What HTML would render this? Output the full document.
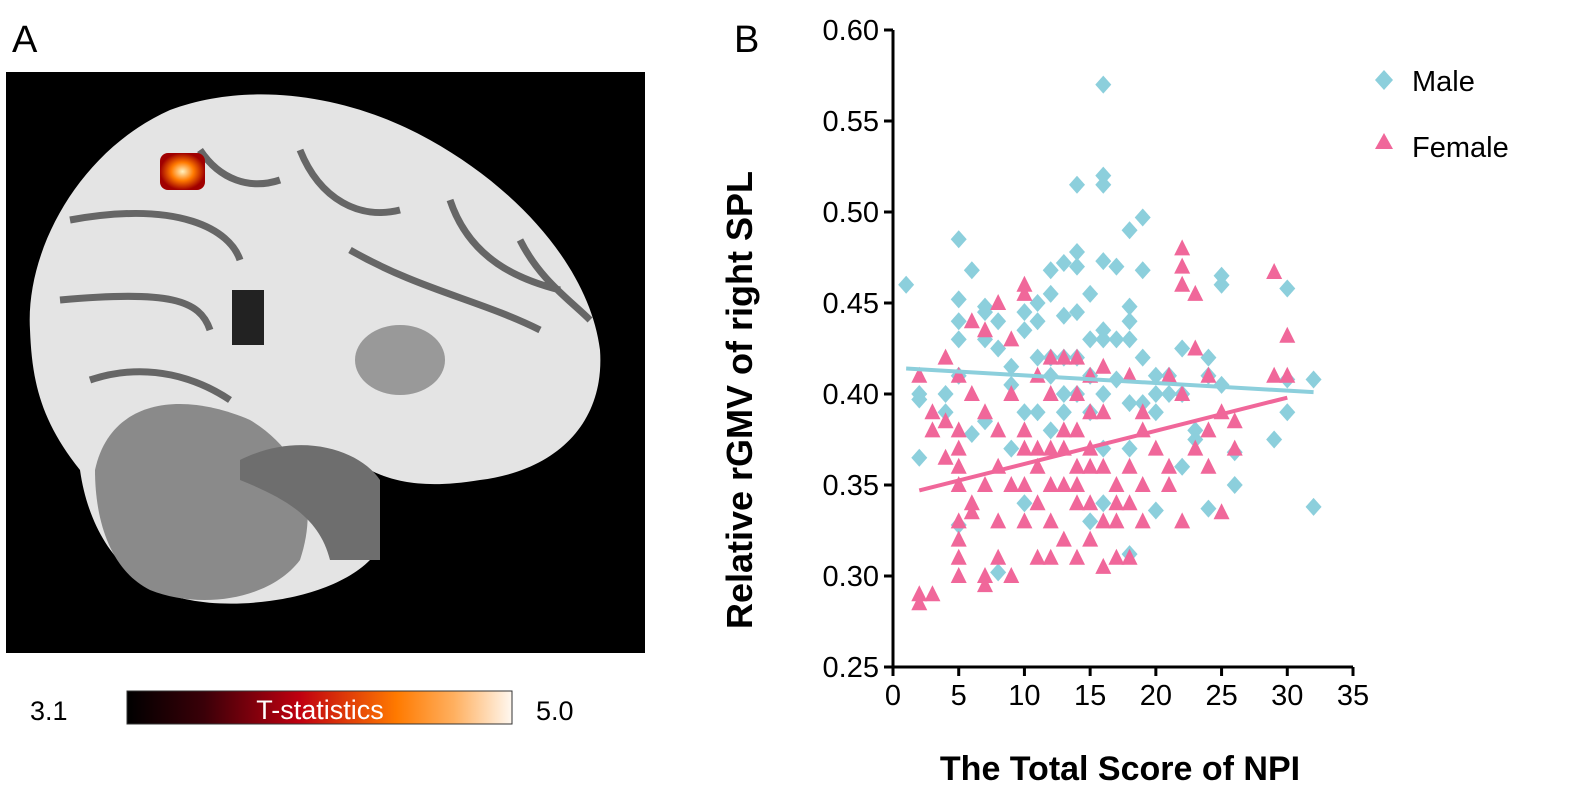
<!DOCTYPE html>
<html><head><meta charset="utf-8"><style>
body{margin:0;background:#fff;}
svg{display:block;font-family:"Liberation Sans",Arial,sans-serif;}
</style></head><body>
<svg id="fig" width="1575" height="794" viewBox="0 0 1575 794">
<defs>
<linearGradient id="cb" x1="0" x2="1" y1="0" y2="0">
<stop offset="0" stop-color="#000"/><stop offset="0.2" stop-color="#3a0008"/><stop offset="0.45" stop-color="#c00010"/><stop offset="0.7" stop-color="#ff7a00"/><stop offset="0.85" stop-color="#ffb060"/><stop offset="1" stop-color="#fff8f0"/>
</linearGradient>
<radialGradient id="hot"><stop offset="0" stop-color="#fff2c0"/><stop offset="0.5" stop-color="#ff7a00"/><stop offset="1" stop-color="#a00000"/></radialGradient>
</defs>
<text x="12" y="52" font-size="38">A</text>
<text x="734" y="52" font-size="38">B</text>
<g>
<rect x="6" y="72" width="639" height="581" fill="#000"/>
<path d="M30,330 C25,250 80,150 170,110 C250,80 350,95 430,140 C520,190 590,270 600,350 C605,420 560,470 480,480 C420,490 390,480 370,470 L370,560 C330,600 240,610 190,600 C130,590 90,540 80,470 C40,420 32,380 30,330 Z" fill="#e4e4e4"/>
<path d="M95,470 C110,400 180,390 250,420 C300,450 320,500 300,560 C270,600 200,610 150,590 C110,570 95,520 95,470 Z" fill="#8a8a8a"/>
<path d="M240,460 C300,430 360,450 380,480 L380,560 L330,560 C320,520 290,500 240,480 Z" fill="#6e6e6e"/>
<ellipse cx="400" cy="360" rx="45" ry="35" fill="#999"/>
<rect x="232" y="290" width="32" height="55" fill="#222"/>
<path d="M70,220 C180,200 230,230 240,260 M300,150 C320,200 360,220 400,210 M450,200 C470,260 520,280 560,290 M60,300 C170,290 200,300 210,330 M350,250 C420,290 480,300 540,330 M90,380 C150,360 200,380 230,400 M200,150 C220,180 250,190 280,180 M520,240 C540,280 570,300 590,320" stroke="#666" stroke-width="7" fill="none"/>
<rect x="160" y="153" width="45" height="37" rx="8" fill="url(#hot)"/>
</g>
<g>
<text x="30" y="720" font-size="27">3.1</text>
<rect x="127" y="691" width="385" height="33" fill="url(#cb)" stroke="#333" stroke-width="1"/>
<text x="320" y="719" font-size="27" fill="#fff" text-anchor="middle">T-statistics</text>
<text x="536" y="720" font-size="27">5.0</text>
</g>
<g id="chart"></g>
</svg>
<script>
const xTicks=[0,5,10,15,20,25,30,35];
const yTicks=[0.25,0.30,0.35,0.40,0.45,0.50,0.55,0.60];
const maleX=[1,2,2,2,4,4,5,5,5,5,5,5,6,6,7,7,7,7,8,8,8,9,9,9,10,10,10,10,11,11,11,11,12,12,12,12,12,13,13,13,13,13,14,14,14,14,14,14,15,15,15,15,15,16,16,16,16,16,16,16,16,16,17,17,17,18,18,18,18,18,18,18,19,19,19,19,20,20,20,20,21,21,22,22,22,23,23,24,24,24,25,25,25,26,26,29,30,30,30,32,32];
const maleY=[0.46,0.40,0.397,0.365,0.40,0.39,0.485,0.452,0.44,0.43,0.41,0.328,0.468,0.378,0.448,0.445,0.43,0.385,0.44,0.425,0.302,0.415,0.405,0.37,0.445,0.435,0.39,0.34,0.45,0.44,0.42,0.39,0.468,0.455,0.42,0.41,0.38,0.472,0.443,0.42,0.40,0.39,0.515,0.478,0.47,0.445,0.42,0.40,0.455,0.43,0.41,0.39,0.33,0.57,0.52,0.515,0.473,0.435,0.43,0.40,0.37,0.34,0.47,0.43,0.408,0.49,0.448,0.44,0.43,0.395,0.37,0.312,0.497,0.468,0.42,0.395,0.41,0.40,0.39,0.336,0.41,0.40,0.425,0.40,0.36,0.38,0.375,0.42,0.41,0.337,0.465,0.46,0.405,0.368,0.35,0.375,0.458,0.408,0.39,0.408,0.338];
const femaleX=[2,2,2,3,3,3,4,4,4,5,5,5,5,5,5,5,5,5,6,6,6,6,7,7,7,7,7,8,8,8,8,8,9,9,9,9,10,10,10,10,10,10,11,11,11,11,11,12,12,12,12,12,12,13,13,13,13,13,14,14,14,14,14,14,14,15,15,15,15,15,15,16,16,16,16,16,17,17,17,17,18,18,18,18,19,19,19,19,20,21,21,21,22,22,22,22,22,23,23,23,24,24,24,25,25,26,26,29,29,30,30];
const femaleY=[0.41,0.29,0.285,0.29,0.39,0.38,0.42,0.385,0.365,0.41,0.38,0.37,0.36,0.35,0.33,0.32,0.31,0.30,0.44,0.40,0.34,0.335,0.435,0.39,0.35,0.30,0.295,0.45,0.38,0.36,0.33,0.31,0.43,0.40,0.35,0.30,0.46,0.455,0.38,0.37,0.35,0.33,0.41,0.37,0.36,0.34,0.31,0.42,0.40,0.37,0.35,0.33,0.31,0.42,0.38,0.37,0.35,0.32,0.42,0.40,0.38,0.36,0.35,0.34,0.31,0.41,0.39,0.37,0.36,0.34,0.32,0.415,0.39,0.36,0.33,0.305,0.35,0.34,0.33,0.31,0.41,0.36,0.34,0.31,0.39,0.38,0.35,0.33,0.37,0.41,0.36,0.35,0.48,0.47,0.46,0.40,0.33,0.455,0.425,0.37,0.41,0.38,0.36,0.39,0.335,0.385,0.37,0.467,0.41,0.432,0.41];
const maleFit=[[1,0.414],[32,0.401]];
const femaleFit=[[2,0.347],[30,0.398]];
const NS="http://www.w3.org/2000/svg";
const g=document.getElementById('chart');
const X0=893,X1=1353,Y0=667,Y1=30;
const sx=v=>X0+(v-0)/(35-0)*(X1-X0);
const sy=v=>Y0-(v-0.25)/(0.60-0.25)*(Y0-Y1);
function mk(t,a){const e=document.createElementNS(NS,t);for(const k in a)e.setAttribute(k,a[k]);g.appendChild(e);return e;}
let e;
e=mk('line',{x1:X0,y1:Y1,x2:X0,y2:Y0,stroke:'#000','stroke-width':3});


e=mk('line',{x1:X0,y1:Y0,x2:X1,y2:Y0,stroke:'#000','stroke-width':3});


yTicks.forEach(v=>{
 e=mk('line',{x1:X0-9,y1:sy(v),x2:X0,y2:sy(v),stroke:'#000','stroke-width':3});
 
 
 e=mk('text',{x:X0-14,y:sy(v)+10,'font-size':29,'text-anchor':'end'});e.textContent=v.toFixed(2);
 
 
});
xTicks.forEach(v=>{
 e=mk('line',{x1:sx(v),y1:Y0,x2:sx(v),y2:Y0+9,stroke:'#000','stroke-width':3});
 
 
 e=mk('text',{x:sx(v),y:Y0+38,'font-size':29,'text-anchor':'middle'});e.textContent=v;
 
 
});
const MC='#8ccfdc',FC='#f0679a';
maleX.forEach((x,i)=>{const cx=sx(x),cy=sy(maleY[i]);
 e=mk('polygon',{points:`${cx},${cy-9} ${cx+8},${cy} ${cx},${cy+9} ${cx-8},${cy}`,fill:MC});
 
 
});
femaleX.forEach((x,i)=>{const cx=sx(x),cy=sy(femaleY[i]);
 e=mk('polygon',{points:`${cx},${cy-9} ${cx+8},${cy+7} ${cx-8},${cy+7}`,fill:FC});
 
 
});
e=mk('line',{x1:sx(maleFit[0][0]),y1:sy(maleFit[0][1]),x2:sx(maleFit[1][0]),y2:sy(maleFit[1][1]),stroke:MC,'stroke-width':4});


e=mk('line',{x1:sx(femaleFit[0][0]),y1:sy(femaleFit[0][1]),x2:sx(femaleFit[1][0]),y2:sy(femaleFit[1][1]),stroke:FC,'stroke-width':4});


e=mk('polygon',{points:'1384,70 1393,80 1384,90 1375,80',fill:MC});


e=mk('text',{x:1412,y:91,'font-size':29});e.textContent='Male';


e=mk('polygon',{points:'1384,133 1393,149 1375,149',fill:FC});


e=mk('text',{x:1412,y:157,'font-size':29});e.textContent='Female';


e=mk('text',{x:0,y:0,'font-size':36,'font-weight':'bold','text-anchor':'middle',transform:'translate(752,400) rotate(-90)'});e.textContent='Relative rGMV of right SPL';


e=mk('text',{x:1120,y:780,'font-size':34,'font-weight':'bold','text-anchor':'middle'});e.textContent='The Total Score of NPI';


</script>
</body></html>
